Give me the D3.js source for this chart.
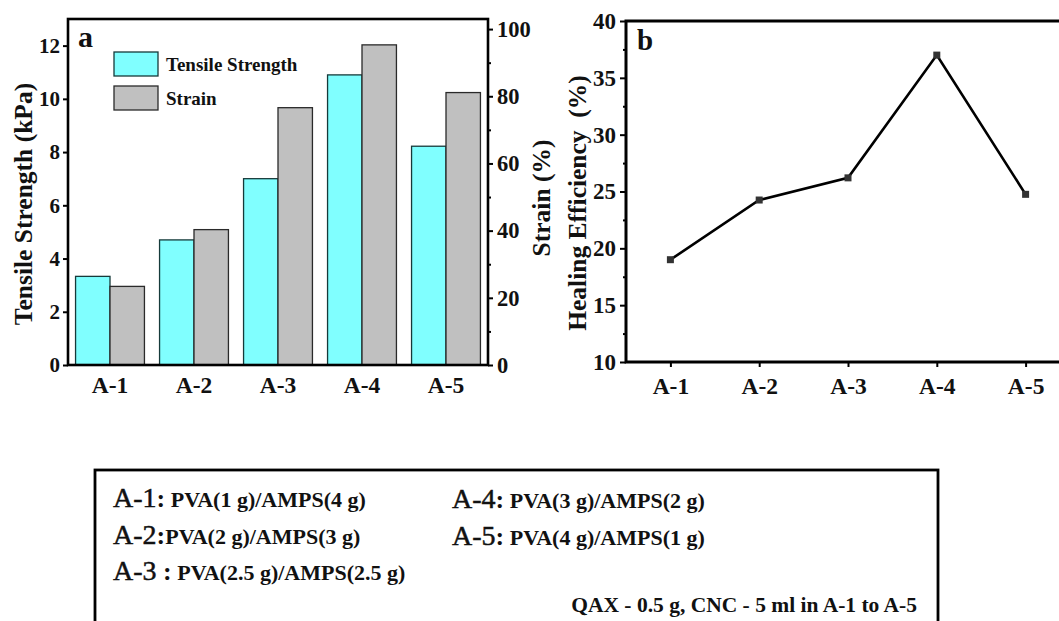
<!DOCTYPE html>
<html>
<head>
<meta charset="utf-8">
<script src="https://cdn.jsdelivr.net/npm/d3@7/dist/d3.min.js"></script>
<style>
  html, body { margin: 0; padding: 0; background: #fff; }
  svg { display: block; }
  text { font-family: "Liberation Serif", "Times New Roman", serif; fill: #111; }
</style>
</head>
<body>
<svg id="chart" width="1059" height="621"></svg>
<script>
// ---------- data ----------
const categories = ["A-1", "A-2", "A-3", "A-4", "A-5"];
const tensileStrength = [3.33, 4.7, 7.0, 10.9, 8.22];      // kPa
const strain = [23.4, 40.3, 76.6, 95.3, 81.1];             // %
const healingEfficiency = [19.0, 24.25, 26.2, 37.0, 24.75]; // %
const tensileTicks = [0, 2, 4, 6, 8, 10, 12];
const strainTicks = [0, 20, 40, 60, 80, 100];
const strainMinorTicks = [10, 30, 50, 70, 90];
const healingTicks = [10, 15, 20, 25, 30, 35, 40];
const healingMinorTicks = [12.5, 17.5, 22.5, 27.5, 32.5, 37.5];
const seriesNames = ["Tensile Strength", "Strain"];
const compLeftLabels = ["A-1", "A-2", "A-3"];
const compLeftColons = [":", ":", " :"];
const compLeftTexts = [" PVA(1 g)/AMPS(4 g)", "PVA(2 g)/AMPS(3 g)", " PVA(2.5 g)/AMPS(2.5 g)"];
const compRightLabels = ["A-4", "A-5"];
const compRightTexts = [" PVA(3 g)/AMPS(2 g)", " PVA(4 g)/AMPS(1 g)"];
const compNote = "QAX - 0.5 g, CNC - 5 ml in A-1 to A-5";

const svg = d3.select("#chart");
const CYAN = "#80ffff", GREY = "#c0c0c0";

// ---------- panel a ----------
const A = { left: 68, right: 488, top: 19, bottom: 365 };
const xA = d3.scaleBand().domain(categories).range([A.left, A.right])
  .paddingInner(0.18).paddingOuter(0.09);
const xSub = d3.scaleBand().domain(seriesNames).range([0, xA.bandwidth()]);
const yL = d3.scaleLinear().domain([0, 13]).range([A.bottom, A.top]);
const yR = d3.scaleLinear().domain([0, 103]).range([A.bottom, A.top]);

const gA = svg.append("g");
gA.selectAll("rect.ts").data(categories).join("rect")
  .attr("class", "ts")
  .attr("x", d => xA(d) + xSub("Tensile Strength"))
  .attr("width", xSub.bandwidth())
  .attr("y", (d, i) => yL(tensileStrength[i]))
  .attr("height", (d, i) => yL(0) - yL(tensileStrength[i]))
  .attr("fill", CYAN).attr("stroke", "#163a3a").attr("stroke-width", 1.3);
gA.selectAll("rect.st").data(categories).join("rect")
  .attr("class", "st")
  .attr("x", d => xA(d) + xSub("Strain"))
  .attr("width", xSub.bandwidth())
  .attr("y", (d, i) => yR(strain[i]))
  .attr("height", (d, i) => yR(0) - yR(strain[i]))
  .attr("fill", GREY).attr("stroke", "#2a2a2a").attr("stroke-width", 1.3);

// frame
gA.append("rect").attr("x", A.left).attr("y", A.top)
  .attr("width", A.right - A.left).attr("height", A.bottom - A.top)
  .attr("fill", "none").attr("stroke", "#000").attr("stroke-width", 2.6);

function styleAxis(g, size) {
  g.select(".domain").remove();
  g.selectAll(".tick line").attr("stroke", "#000").attr("stroke-width", 2);
  g.selectAll(".tick text").style("font-size", size + "px").style("font-weight", "bold")
    .attr("fill", "#111");
}

const axL = gA.append("g").attr("transform", `translate(${A.left},0)`)
  .call(d3.axisLeft(yL).tickValues(tensileTicks).tickSize(5).tickPadding(3));
styleAxis(axL, 21);
const axR = gA.append("g").attr("transform", `translate(${A.right},0)`)
  .call(d3.axisRight(yR).tickValues(strainTicks).tickSize(5).tickPadding(4));
styleAxis(axR, 22.5);
const axRm = gA.append("g").attr("transform", `translate(${A.right},0)`)
  .call(d3.axisRight(yR).tickValues(strainMinorTicks).tickSize(3).tickFormat(""));
styleAxis(axRm, 10);
const axB = gA.append("g").attr("transform", `translate(0,${A.bottom})`)
  .call(d3.axisBottom(xA).tickSize(0).tickPadding(11));
styleAxis(axB, 23.5);

gA.append("text").attr("x", 78).attr("y", 47)
  .style("font-size", "30px").style("font-weight", "bold").text("a");

gA.append("text")
  .attr("transform", `translate(32,${204}) rotate(-90)`)
  .attr("text-anchor", "middle").style("font-size", "25.5px").style("font-weight", "bold")
  .text("Tensile Strength (kPa)");
gA.append("text")
  .attr("transform", `translate(550,${198}) rotate(-90)`)
  .attr("text-anchor", "middle").style("font-size", "25.5px").style("font-weight", "bold")
  .text("Strain (%)");

// legend
const legColors = [CYAN, GREY];
const legStroke = ["#163a3a", "#2a2a2a"];
seriesNames.forEach((name, i) => {
  const y0 = 52 + i * 34;
  gA.append("rect").attr("x", 114).attr("y", y0).attr("width", 44).attr("height", 24)
    .attr("fill", legColors[i]).attr("stroke", legStroke[i]).attr("stroke-width", 1.3);
  gA.append("text").attr("x", 166).attr("y", y0 + 19)
    .style("font-size", "19px").style("font-weight", "bold").text(name);
});

// ---------- panel b ----------
const B = { left: 626, right: 1070, top: 21, bottom: 362 };
const xB = d3.scalePoint().domain(categories).range([B.left, B.right]).padding(0.5);
const yB = d3.scaleLinear().domain([10, 40]).range([B.bottom, B.top]);
const gB = svg.append("g");

gB.append("rect").attr("x", B.left).attr("y", B.top)
  .attr("width", B.right - B.left + 20).attr("height", B.bottom - B.top)
  .attr("fill", "none").attr("stroke", "#000").attr("stroke-width", 3);

const axBL = gB.append("g").attr("transform", `translate(${B.left},0)`)
  .call(d3.axisLeft(yB).tickValues(healingTicks).tickSize(6).tickPadding(4));
styleAxis(axBL, 23);
const axBLm = gB.append("g").attr("transform", `translate(${B.left},0)`)
  .call(d3.axisLeft(yB).tickValues(healingMinorTicks).tickSize(3).tickFormat(""));
styleAxis(axBLm, 10);
const axBB = gB.append("g").attr("transform", `translate(0,${B.bottom})`)
  .call(d3.axisBottom(xB).tickSize(5).tickPadding(10));
styleAxis(axBB, 23.5);

const line = d3.line().x((d, i) => xB(categories[i])).y(d => yB(d));
gB.append("path").datum(healingEfficiency).attr("d", line)
  .attr("fill", "none").attr("stroke", "#000").attr("stroke-width", 2.6);
gB.selectAll("rect.pt").data(healingEfficiency).join("rect")
  .attr("class", "pt")
  .attr("x", (d, i) => xB(categories[i]) - 3.5).attr("y", d => yB(d) - 3.5)
  .attr("width", 7).attr("height", 7).attr("fill", "#333");

gB.append("text").attr("x", 637).attr("y", 50)
  .style("font-size", "29px").style("font-weight", "bold").text("b");
gB.append("text")
  .attr("transform", `translate(586,${203}) rotate(-90)`)
  .attr("text-anchor", "middle").style("font-size", "25.5px").style("font-weight", "bold")
  .style("white-space", "pre").attr("xml:space", "preserve")
  .text("Healing Efficiency  (%)");

// ---------- composition box ----------
const gC = svg.append("g");
gC.append("rect").attr("x", 95).attr("y", 470).attr("width", 843).attr("height", 200)
  .attr("fill", "none").attr("stroke", "#000").attr("stroke-width", 2.8);

function compLine(x, y, label, colon, txt) {
  const t = gC.append("text").attr("x", x).attr("y", y).style("white-space", "pre")
    .attr("xml:space", "preserve");
  t.append("tspan").style("font-size", "28px").attr("stroke", "#111").attr("stroke-width", 0.5)
    .text(label);
  t.append("tspan").style("font-size", "26px").style("font-weight", "bold").text(colon);
  t.append("tspan").style("font-size", "22px").style("font-weight", "bold").text(txt);
}
compLeftLabels.forEach((l, i) => compLine(113, 507 + i * 36.5, l, compLeftColons[i], compLeftTexts[i]));
compRightLabels.forEach((l, i) => compLine(452, 508 + i * 37, l, ":", compRightTexts[i]));
gC.append("text").attr("x", 917).attr("y", 612).attr("text-anchor", "end")
  .style("font-size", "21.5px").style("font-weight", "bold").text(compNote);
</script>
</body>
</html>
